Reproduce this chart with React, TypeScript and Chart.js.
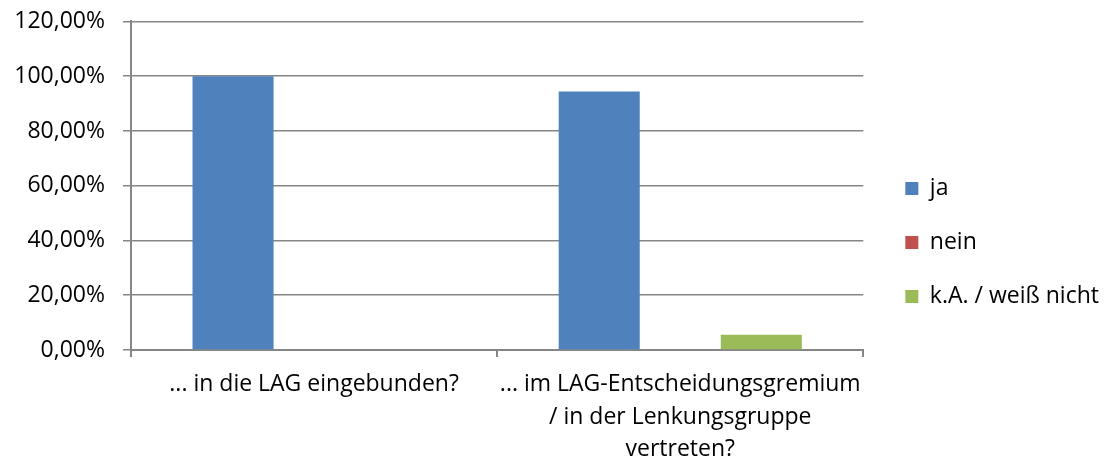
import React, { useEffect, useRef } from "react";
import { Chart, registerables } from "chart.js";

Chart.register(...registerables);

const categories: (string | string[])[] = [
  "... in die LAG eingebunden?",
  ["... im LAG-Entscheidungsgremium", "/ in der Lenkungsgruppe", "vertreten?"],
];
const seriesNames = ["ja", "nein", "k.A. / weiß nicht"];
const jaValues = [100, 94.44];
const neinValues = [0, 0];
const kaValues = [0, 5.56];
const seriesColors = ["#4F81BD", "#C0504D", "#9BBB59"];
const yTicks = { min: 0, max: 120, step: 20 };

const FONT = "'Open Sans', sans-serif";
const FS = 23;
const GRID = "#868686";

export default function App() {
  const ref = useRef<HTMLCanvasElement | null>(null);
  useEffect(() => {
    document.body.style.margin = "0";
    const chart = new Chart(ref.current!, {
      type: "bar",
      data: {
        labels: categories,
        datasets: [jaValues, neinValues, kaValues].map((d, i) => ({
          label: seriesNames[i],
          data: d,
          backgroundColor: seriesColors[i],
          borderWidth: 0,
          categoryPercentage: 0.664,
          barPercentage: 1,
        })),
      },
      options: {
        animation: false,
        responsive: false,
        maintainAspectRatio: false,
        layout: { padding: { top: 12, left: 0, right: 0, bottom: 0 } },
        plugins: {
          tooltip: { enabled: false },
          legend: {
            position: "right",
            labels: {
              boxWidth: 13,
              boxHeight: 13,
              padding: 42,
              color: "#000",
              font: { family: FONT, size: FS, lineHeight: "12px" },
              generateLabels: (c: any) =>
                Chart.defaults.plugins.legend.labels
                  .generateLabels(c)
                  .map((l: any) => ({ ...l, text: [l.text] })),
            },
          },
        },
        scales: {
          x: {
            offset: true,
            grid: {
              display: true,
              offset: true,
              drawOnChartArea: false,
              drawTicks: true,
              tickLength: 7,
              color: GRID,
              lineWidth: 2,
            },
            border: { display: true, color: GRID, width: 2 },
            ticks: {
              color: "#000",
              padding: 11,
              maxRotation: 0,
              autoSkip: false,
              font: { family: FONT, size: FS, lineHeight: 1.42 },
            },
            afterFit: (s: any) => {
              s.height = 112;
            },
          },
          y: {
            min: yTicks.min,
            max: yTicks.max,
            ticks: {
              stepSize: yTicks.step,
              color: "#000",
              padding: 18,
              font: { family: FONT, size: FS, lineHeight: 0.3 },
              callback: (v: any) => Number(v).toFixed(2).replace(".", ",") + "%",
            },
            grid: { color: GRID, lineWidth: 1.5, tickLength: 8 },
            border: { display: true, color: GRID, width: 2 },
            afterFit: (s: any) => {
              s.width = 131;
            },
          },
        },
      },
    } as any);
    return () => chart.destroy();
  }, []);
  return (
    <div style={{ width: 1109, height: 462 }}>
      <canvas ref={ref} width={1109} height={462} />
    </div>
  );
}
